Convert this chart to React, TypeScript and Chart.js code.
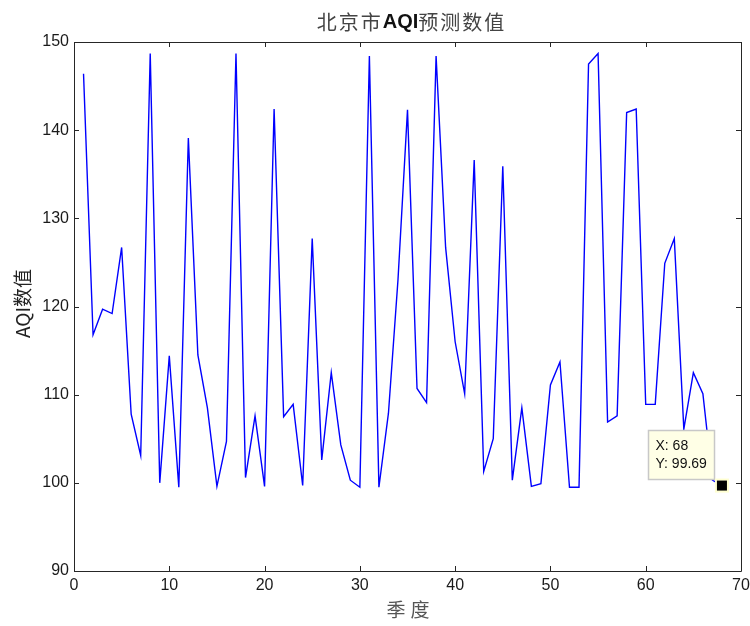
import React, { useEffect, useRef } from "react";
import { Chart, registerables } from "chart.js";

Chart.register(...registerables);

const titleParts = ["北京市", "AQI", "预测数值"];
const xAxisTitle = "季度";
const yAxisTitle = "AQI数值";

const quarters = [
  1, 2, 3, 4, 5, 6, 7, 8, 9, 10, 11, 12, 13, 14, 15, 16, 17, 18, 19, 20,
  21, 22, 23, 24, 25, 26, 27, 28, 29, 30, 31, 32, 33, 34, 35, 36, 37, 38, 39, 40,
  41, 42, 43, 44, 45, 46, 47, 48, 49, 50, 51, 52, 53, 54, 55, 56, 57, 58, 59, 60,
  61, 62, 63, 64, 65, 66, 67, 68,
];

const aqiValues = [
  146.4, 116.8, 119.7, 119.2, 126.7, 107.8, 103.1, 148.7, 100.0, 114.4,
  99.5, 139.1, 114.5, 108.5, 99.6, 104.7, 148.7, 100.6, 107.6, 99.6,
  142.4, 107.5, 108.9, 99.7, 127.7, 102.6, 112.5, 104.3, 100.3, 99.5,
  148.4, 99.5, 107.9, 123.0, 142.3, 110.7, 109.1, 148.4, 126.7, 116.0,
  110.1, 136.6, 101.3, 105.0, 135.9, 100.3, 108.5, 99.6, 99.9, 111.1,
  113.7, 99.5, 99.5, 147.5, 148.7, 106.9, 107.6, 142.0, 142.4, 108.9,
  108.9, 124.9, 127.7, 106.1, 112.5, 110.1, 100.3, 99.69,
];

const xTicks = [0, 10, 20, 30, 40, 50, 60, 70];
const yTicks = [90, 100, 110, 120, 130, 140, 150];

const dataTipIndex = 67;

const TICK_FONT = "'Liberation Sans', Arial, Helvetica, sans-serif";
const CJK_FONT = "'Noto Sans CJK SC', 'Liberation Sans', sans-serif";

const matlabPlugin = {
  id: "matlabDecor",
  afterDraw(chart: any) {
    const { ctx, chartArea } = chart;
    const xs = chart.scales.x;
    const ys = chart.scales.y;
    const { left, right, top, bottom } = chartArea;
    ctx.save();

    // Box
    ctx.strokeStyle = "#262626";
    ctx.lineWidth = 1;
    ctx.beginPath();
    ctx.rect(Math.round(left) + 0.5, Math.round(top) + 0.5, Math.round(right - left), Math.round(bottom - top));
    ctx.stroke();

    // Inward ticks
    const tl = 5;
    ctx.beginPath();
    xTicks.forEach((v) => {
      const px = Math.round(xs.getPixelForValue(v)) + 0.5;
      ctx.moveTo(px, bottom);
      ctx.lineTo(px, bottom - tl);
      ctx.moveTo(px, top);
      ctx.lineTo(px, top + tl);
    });
    yTicks.forEach((v) => {
      const py = Math.round(ys.getPixelForValue(v)) + 0.5;
      ctx.moveTo(left, py);
      ctx.lineTo(left + tl, py);
      ctx.moveTo(right, py);
      ctx.lineTo(right - tl, py);
    });
    ctx.stroke();

    // Title
    const cx = (left + right) / 2;
    const fonts = [
      `400 20px ${CJK_FONT}`,
      `700 20px ${TICK_FONT}`,
      `400 20px ${CJK_FONT}`,
    ];
    const spacings = ["2px", "0px", "2px"];
    const colors = ["#444444", "#111111", "#444444"];
    const widths = titleParts.map((t, i) => {
      ctx.font = fonts[i];
      (ctx as any).letterSpacing = spacings[i];
      return ctx.measureText(t).width;
    });
    const total = widths.reduce((a, b) => a + b, 0);
    let x0 = cx + 4 - total / 2;
    ctx.textBaseline = "middle";
    ctx.textAlign = "left";
    titleParts.forEach((t, i) => {
      ctx.font = fonts[i];
      (ctx as any).letterSpacing = spacings[i];
      ctx.fillStyle = colors[i];
      ctx.fillText(t, x0, 22);
      x0 += widths[i];
    });

    // X axis title
    (ctx as any).letterSpacing = "5px";
    ctx.font = `400 19px ${CJK_FONT}`;
    ctx.fillStyle = "#555555";
    ctx.textAlign = "center";
    ctx.fillText(xAxisTitle, cx + 3, 610);

    // Y axis title
    (ctx as any).letterSpacing = "0px";
    ctx.save();
    ctx.translate(23, (top + bottom) / 2 - 3);
    ctx.rotate(-Math.PI / 2);
    ctx.font = `400 19px ${CJK_FONT}`;
    ctx.fillStyle = "#222222";
    ctx.textAlign = "center";
    ctx.fillText(yAxisTitle, 0, 0);
    ctx.restore();

    // Data tip
    const px = xs.getPixelForValue(quarters[dataTipIndex]);
    const py = ys.getPixelForValue(aqiValues[dataTipIndex]);
    const bx = Math.round(px - 74) + 0.5;
    const by = Math.round(py - 56) + 0.5;
    const bw = 66;
    const bh = 49;
    ctx.fillStyle = "#ffffe6";
    ctx.fillRect(bx, by, bw, bh);
    ctx.strokeStyle = "#c8c8c8";
    ctx.lineWidth = 1.5;
    ctx.strokeRect(bx, by, bw, bh);
    ctx.fillStyle = "#111111";
    ctx.font = `400 14px ${TICK_FONT}`;
    ctx.textAlign = "left";
    ctx.textBaseline = "middle";
    ctx.fillText(`X: ${quarters[dataTipIndex]}`, bx + 7, by + 16);
    ctx.fillText(`Y: ${aqiValues[dataTipIndex].toFixed(2)}`, bx + 7, by + 34);

    // Marker
    ctx.fillStyle = "#ffffd0";
    ctx.fillRect(px - 7, py - 7, 14, 14);
    ctx.fillStyle = "#000000";
    ctx.fillRect(px - 5, py - 5, 10, 10);

    ctx.restore();
  },
};

export default function App() {
  const canvasRef = useRef<HTMLCanvasElement | null>(null);

  useEffect(() => {
    if (!canvasRef.current) return;
    const chart = new Chart(canvasRef.current, {
      type: "line",
      data: {
        datasets: [
          {
            label: "AQI",
            data: quarters.map((q, i) => ({ x: q, y: aqiValues[i] })),
            borderColor: "#0000ff",
            borderWidth: 1.4,
            pointRadius: 0,
            tension: 0,
            fill: false,
          },
        ],
      },
      options: {
        responsive: false,
        animation: false,
        events: [],
        layout: { padding: { top: 42, right: 9, bottom: 0, left: 0 } },
        plugins: {
          legend: { display: false },
          tooltip: { enabled: false },
          title: { display: false },
        },
        scales: {
          x: {
            type: "linear",
            min: 0,
            max: 70,
            grid: { display: false, drawTicks: false },
            border: { display: false },
            afterFit: (scale: any) => {
              scale.height = 55;
              scale.paddingRight = 0;
            },
            afterBuildTicks: (scale: any) => {
              scale.ticks = xTicks.map((v) => ({ value: v }));
            },
            ticks: {
              padding: 5,
              maxRotation: 0,
              autoSkip: false,
              color: "#1a1a1a",
              font: { family: TICK_FONT, size: 16 },
            },
          },
          y: {
            type: "linear",
            min: 90,
            max: 150,
            grid: { display: false, drawTicks: false },
            border: { display: false },
            afterFit: (scale: any) => {
              scale.width = 74;
            },
            afterBuildTicks: (scale: any) => {
              scale.ticks = yTicks.map((v) => ({ value: v }));
            },
            ticks: {
              padding: 5,
              autoSkip: false,
              color: "#1a1a1a",
              font: { family: TICK_FONT, size: 16 },
            },
          },
        },
      },
      plugins: [matlabPlugin],
    });
    return () => chart.destroy();
  }, []);

  return (
    <div style={{ position: "absolute", left: 0, top: 0, width: 750, height: 626, background: "#ffffff" }}>
      <canvas ref={canvasRef} width={750} height={626} style={{ display: "block" }} />
    </div>
  );
}
